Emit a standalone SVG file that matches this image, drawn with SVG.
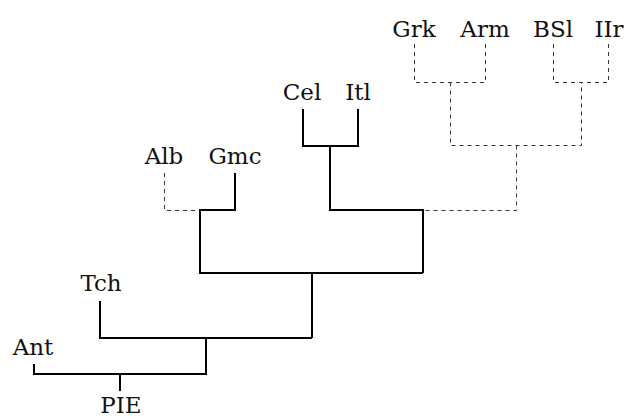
<svg xmlns="http://www.w3.org/2000/svg" width="624" height="419" viewBox="0 0 624 419">
<style>
text{font-family:"DejaVu Serif","Liberation Serif",serif;font-size:23px;fill:#111;text-anchor:middle}
.s{fill:none;stroke:#000;stroke-width:2}
.d{fill:none;stroke:#333;stroke-width:1;stroke-dasharray:4 4}
</style>
<rect width="624" height="419" fill="#fff"/>
<g id="connectors">
<path class="d" d="M414.5 44V82.5H485.5V44"/>
<path class="d" d="M553.5 44V82.5H608.5V44"/>
<path class="d" d="M450.5 82.5V145.5H581.5V82.5"/>
<path class="d" d="M516.5 145.5V210.5H424"/>
<path class="d" d="M164.5 173V210.5H200"/>
<path class="s" d="M303 109V146H358V109"/>
<path class="s" d="M330 146V210H423V273"/>
<path class="s" d="M235 173V210H200V273H423"/>
<path class="s" d="M312 273V338"/>
<path class="s" d="M100 301V338H312"/>
<path class="s" d="M206 338V374H34V364"/>
<path class="s" d="M120 374V391"/>
</g>
<g id="Grk"><text x="414" y="36.5">Grk</text></g>
<g id="Arm"><text x="485" y="36.5">Arm</text></g>
<g id="BSl"><text x="553" y="36.5">BSl</text></g>
<g id="IIr"><text x="609" y="36.5">IIr</text></g>
<g id="Cel"><text x="302" y="100">Cel</text></g>
<g id="Itl"><text x="358" y="100">Itl</text></g>
<g id="Alb"><text x="164" y="163.5">Alb</text></g>
<g id="Gmc"><text x="235" y="163.5">Gmc</text></g>
<g id="Tch"><text x="101" y="291">Tch</text></g>
<g id="Ant"><text x="33" y="354.5">Ant</text></g>
<g id="PIE"><text x="121" y="413">PIE</text></g>
</svg>
